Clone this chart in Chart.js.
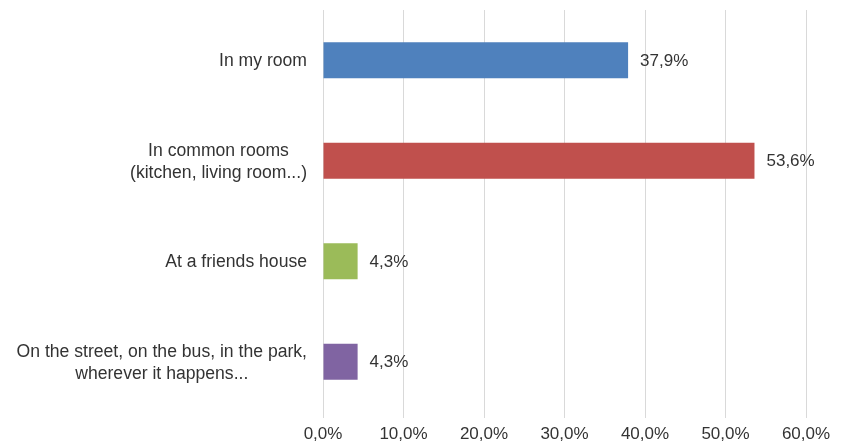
<!DOCTYPE html>
<html>
<head>
<meta charset="utf-8">
<script src="https://cdn.jsdelivr.net/npm/chart.js@4"></script>
<style>
  html, body { margin: 0; padding: 0; background: #fff; }
  #wrap { width: 841px; height: 447px; }
</style>
</head>
<body>
<div id="wrap"><canvas id="graficoBarras" width="841" height="447"></canvas></div>
<script>
// data
var categorias = [
  'In my room',
  ['In common rooms', '(kitchen, living room...)'],
  'At a friends house',
  ['On the street, on the bus, in the park,', 'wherever it happens...']
];
var valores = [37.9, 53.6, 4.3, 4.3];
var colores = ['#4F81BD', '#C0504D', '#9BBB59', '#8064A2'];
var ejeMin = 0, ejeMax = 60, ejePaso = 10;

var fuente = "'Liberation Sans', Arial, sans-serif";
var colorTexto = '#333333';
var tamano = 17;
var tamanoCat = 17.6;

function formato(v) {
  return v.toFixed(1).replace('.', ',') + '%';
}

// etiquetas de categoria (centradas por linea, alineadas a la derecha) y valores
var etiquetas = {
  id: 'etiquetas',
  afterDatasetsDraw: function (chart) {
    var ctx = chart.ctx;
    var y = chart.scales.y;
    var meta = chart.getDatasetMeta(0);
    ctx.save();
    ctx.font = tamano + 'px ' + fuente;
    ctx.fillStyle = colorTexto;
    ctx.textBaseline = 'middle';

    // valores
    ctx.textAlign = 'left';
    meta.data.forEach(function (bar, i) {
      ctx.fillText(formato(valores[i]), bar.x + 12, bar.y + 1);
    });

    // categorias
    ctx.font = tamanoCat + 'px ' + fuente;
    var derecha = chart.chartArea.left - 16;
    var alto = 22;
    categorias.forEach(function (cat, i) {
      var lineas = Array.isArray(cat) ? cat : [cat];
      var ancho = 0;
      lineas.forEach(function (l) { ancho = Math.max(ancho, ctx.measureText(l).width); });
      var cy = y.getPixelForValue(i) + 1;
      var y0 = cy - (lineas.length - 1) * alto / 2;
      ctx.textAlign = 'center';
      lineas.forEach(function (l, k) {
        ctx.fillText(l, derecha - ancho / 2, y0 + k * alto);
      });
    });
    ctx.restore();
  }
};

var ctx = document.getElementById('graficoBarras').getContext('2d');
var graficoBarras = new Chart(ctx, {
  type: 'bar',
  data: {
    labels: categorias,
    datasets: [{
      data: valores,
      backgroundColor: colores,
      borderWidth: 0,
      categoryPercentage: 1,
      barPercentage: 0.36
    }]
  },
  options: {
    indexAxis: 'y',
    responsive: false,
    animation: false,
    layout: { padding: { top: 10, right: 35, bottom: 0, left: 0 } },
    plugins: {
      legend: { display: false },
      tooltip: { enabled: false }
    },
    scales: {
      x: {
        min: ejeMin,
        max: ejeMax,
        ticks: {
          stepSize: ejePaso,
          padding: 6,
          color: colorTexto,
          font: { family: fuente, size: tamano },
          callback: function (v) { return formato(v); }
        },
        grid: { color: '#d9d9d9', lineWidth: 1, tickLength: 6, drawTicks: true },
        border: { display: false },
        afterFit: function (s) { s.height = 35; }
      },
      y: {
        ticks: { display: false },
        grid: { display: false },
        border: { display: false },
        afterFit: function (s) { s.width = 323; }
      }
    }
  },
  plugins: [etiquetas]
});
</script>
</body>
</html>
